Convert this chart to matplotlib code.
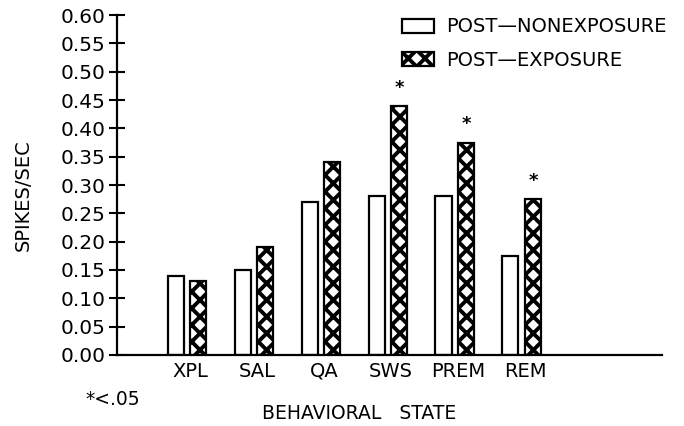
import numpy as np
import matplotlib
matplotlib.use("Agg")
from matplotlib import pyplot as plt
from matplotlib.patches import Patch

states = ["XPL", "SAL", "QA", "SWS", "PREM", "REM"]
post_nonexposure = [0.14, 0.15, 0.27, 0.28, 0.28, 0.175]
post_exposure = [0.13, 0.19, 0.34, 0.44, 0.375, 0.275]
significant = [False, False, False, True, True, True]
yticks = [0.00, 0.05, 0.10, 0.15, 0.20, 0.25, 0.30, 0.35, 0.40, 0.45, 0.50, 0.55, 0.60]

plt.rcParams["hatch.linewidth"] = 2.8
plt.rcParams["font.family"] = "DejaVu Sans"

fig = plt.figure(figsize=(6.84, 4.26), dpi=100)
ax = fig.add_axes([0.171, 0.1667, 0.797, 0.798])

x = np.arange(len(states))
w = 0.24
off = 0.168
ax.bar(x - off, post_nonexposure, w, facecolor="white", edgecolor="black", linewidth=1.6)
ax.bar(x + off, post_exposure, w, facecolor="white", edgecolor="black", linewidth=1.6, hatch="xx")

for i in range(len(states)):
    if significant[i]:
        ax.text(x[i] + off, post_exposure[i] + 0.032, "*", ha="center", va="center",
                fontsize=13, fontweight="bold")

ax.set_xlim(-1.05, 7.1)
ax.set_ylim(0, 0.6)
ax.set_xticks(x + 0.05)
ax.set_xticklabels(states, fontsize=14)
ax.set_yticks(yticks)
ax.set_yticklabels(["%.2f" % v for v in yticks], fontsize=14.5)
ax.tick_params(axis="x", length=0, pad=5)
ax.tick_params(axis="y", direction="inout", length=11, width=1.5, pad=3)

for s in ["top", "right"]:
    ax.spines[s].set_visible(False)
ax.spines["left"].set_linewidth(1.6)
ax.spines["bottom"].set_linewidth(1.6)

ax.set_ylabel("SPIKES/SEC", fontsize=14)
ax.yaxis.set_label_coords(-0.155, 0.47)
fig.text(0.525, 0.03, "BEHAVIORAL   STATE", ha="center", va="center", fontsize=13.5)
fig.text(0.165, 0.062, "*<.05", ha="center", va="center", fontsize=13.5)

handles = [Patch(facecolor="white", edgecolor="black", linewidth=1.6),
           Patch(facecolor="white", edgecolor="black", linewidth=1.6, hatch="xx")]
fig.legend(handles, ["POST\u2014NONEXPOSURE", "POST\u2014EXPOSURE"], loc="upper left",
           bbox_to_anchor=(0.562, 1.0), frameon=False, fontsize=14,
           handlelength=1.65, handleheight=0.75, handletextpad=0.6, labelspacing=0.72)

fig.savefig("out.png", dpi=100)
